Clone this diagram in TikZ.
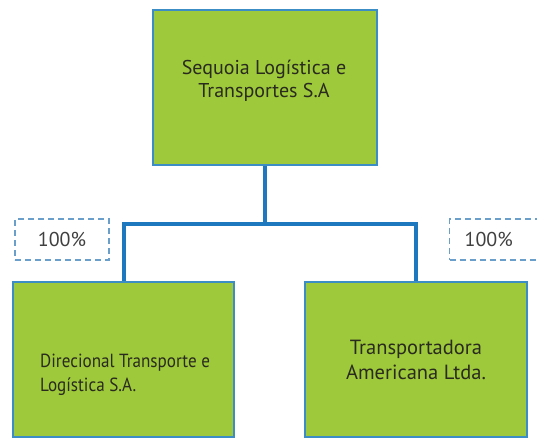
\documentclass[tikz,border=0pt]{standalone}
\usepackage{fontspec}
\setmainfont{PT Sans}
\newfontfamily\narrowfont{PT Sans}[FakeStretch=0.9]
\definecolor{boxgreen}{HTML}{9DC93B}
\definecolor{boxblue}{HTML}{3C8DC5}
\definecolor{linkblue}{HTML}{1E78BE}
\definecolor{dashblue}{HTML}{6A9FCC}
\definecolor{txt}{HTML}{2A2A1E}
\begin{document}
\begin{tikzpicture}[x=1pt,y=1pt,
  company/.style={draw=boxblue, line width=1.8pt, fill=boxgreen, inner sep=0pt},
  ctext/.style={text=txt, inner sep=0pt},
  share/.style={draw=dashblue, dashed, dash pattern=on 6pt off 4pt, line width=1.3pt, minimum height=41pt, inner sep=0pt, text=black!75, font=\fontsize{20}{22}\selectfont},
  link/.style={draw=linkblue, line width=4pt}]
\useasboundingbox (0,0) rectangle (537,441);
\clip (0,0) rectangle (537,441);
\fill[white] (0,0) rectangle (537,441);
\node[company, minimum width=224pt, minimum height=155pt] (top) at (265,353.5) {};
\node[company, minimum width=221pt, minimum height=155pt] (left) at (123.5,81.5) {};
\node[company, minimum width=222pt, minimum height=155pt] (right) at (416,81.5) {};
\node[ctext, align=center, font=\fontsize{20}{23}\selectfont] (toptxt) at (264,360.5) {Sequoia Logística e\\Transportes S.A};
\node[ctext, align=left, anchor=west, font=\narrowfont\fontsize{19}{24}\selectfont] (lefttxt) at (40,66) {Direcional Transporte e\\Logística S.A.};
\node[ctext, align=center, font=\fontsize{20.5}{25}\selectfont] (righttxt) at (416,81) {Transportadora\\Americana Ltda.};
\node[share, minimum width=94pt] (s1) at (62,201.5) {100\%};
\node[share, anchor=west, minimum width=140pt, text width=140pt, align=left] (s2) at (449,201.5) {\hspace{15pt}100\%};
\draw[link] (top.south) -- ++(0,-58) coordinate (j);
\draw[link] (left.north) |- (j) -| (right.north);
\end{tikzpicture}
\end{document}
